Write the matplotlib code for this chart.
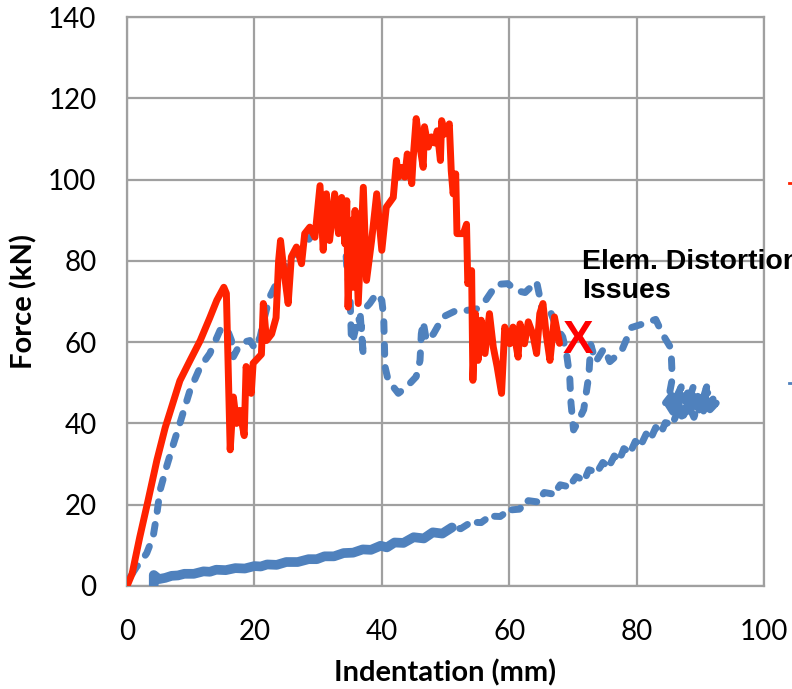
import matplotlib
matplotlib.use("Agg")
import matplotlib.pyplot as plt
from matplotlib.lines import Line2D

# ---------------- data ----------------
red_x = [0, 0.8, 2.0, 3.3, 4.7, 6.0, 7.0, 8.3, 9.9, 11.5, 13.0, 14.1, 15.2, 15.6,
         16.2, 16.7, 17.2, 17.7, 18.4, 18.7, 19.5, 19.8, 21.1, 21.4, 21.9, 22.7,
         23.4, 23.8, 24.1, 24.6, 25.3, 25.8, 26.6, 27.4, 27.9, 28.7, 29.5, 30.3,
         30.8, 31.3, 31.8, 32.6, 33.2, 33.7, 34.2, 34.5, 34.7, 35.2, 35.5, 35.8,
         36.3, 37.1, 37.6, 38.4, 39.2, 40.0, 40.7, 41.8, 42.3, 42.6, 43.1, 43.6,
         44.0, 44.7, 44.9, 45.4, 46.0, 46.5, 46.7, 47.3, 47.8, 48.3, 48.7, 49.2,
         49.4, 49.9, 50.6, 50.9, 51.2, 51.6, 51.8, 52.8, 53.3, 53.5, 54.1, 54.3,
         54.7, 55.1, 55.6, 56.2, 56.9, 57.5, 58.1, 58.8, 59.3, 60.1, 60.6, 61.4,
         61.7, 62.4, 63.0, 63.7, 64.3, 64.8, 65.3, 65.8, 66.4, 67.1, 67.9]
red_y = [0, 3, 12, 21, 31, 39, 44, 50.5, 55.5, 60.4, 66, 70.3, 73.5, 72,
         33.5, 46.5, 40, 43.2, 37, 54, 47.4, 54.8, 57, 69.5, 60.4, 62,
         66, 80, 85, 78, 69.5, 81, 83.4, 79.3, 86.7, 88.3, 85.8, 98.5,
         82.6, 96.5, 85, 96.5, 86.7, 95.6, 84.2, 94.8, 68.6, 90, 73.5, 92.4,
         69.5, 98.1, 75.2, 85, 96.5, 82.6, 93.2, 95.6, 104.7, 100.6, 103, 100.6,
         106.3, 99, 104.7, 115, 108, 103, 113, 108, 110.5, 109, 112, 104.7,
         114.5, 111.2, 113.7, 102.2, 96.5, 101.4, 86.7, 86.7, 89, 74.4, 77.6, 50.6,
         67, 55.5, 65.4, 57.2, 67, 58.8, 54, 47.4, 63.7, 59.6, 63.7, 56.3,
         64.5, 59.6, 65, 62, 57.2, 67, 69.5, 62, 55.5, 66.2, 59.7]

blue_load_x = [0, 0.2, 1.0, 0.6, 1.5, 2.2, 3.1, 4.1, 4.7, 5.2, 6.2, 7.3, 8.3, 9.9,
               11.5, 13.0, 14.6, 15.6, 16.4, 16.7, 17.5, 18.3, 19.3, 20.1, 20.9,
               21.6, 22.4, 23.7, 25.8, 27.7, 29.2, 30.5, 31.8, 32.6, 33.7, 34.2,
               34.5, 35.0, 35.2, 35.4, 36.3, 36.8, 37.1, 36.6, 38.1, 39.2, 40.0,
               40.3, 40.5, 41.0, 42.6, 43.9, 45.4, 46.0, 46.2, 46.5, 47.0, 48.1,
               49.6, 51.7, 53.3, 54.9, 56.4, 58.0, 59.8, 61.1, 62.5, 64.3, 64.8,
               65.3, 66.4, 67.4, 68.4, 69.0, 69.5, 69.7, 70.1, 70.5, 71.7, 72.5,
               72.8, 73.6, 74.9, 75.8, 77.6, 79.2, 80.8, 83.0, 84.1, 85.4, 85.6,
               85.1, 84.5, 86.0, 85.5, 87.0, 86.5, 88.0, 87.5, 89.0, 88.5, 90.0,
               89.5, 91.0, 90.0, 91.5, 90.5, 92.0, 91.0, 92.5, 91.5, 90.0, 89.0,
               88.0, 87.0, 86.5, 86.0, 85.0, 87.0, 88.5, 90.5, 89.5, 91.5, 88.0]
blue_load_y = [0, 1.5, 3.5, 2.5, 4.7, 6.0, 8.1, 12.1, 17.9, 23.6, 29.3, 35, 40, 48.2,
               53.9, 57.2, 62.9, 63.7, 60.4, 56.4, 58.8, 60, 60.4, 58.4, 61.3,
               66.2, 71.1, 75.2, 81, 83.4, 86.7, 90, 89.2, 88, 90.8, 86.7,
               78.5, 71.9, 62, 60, 66.2, 63.7, 56.4, 67, 69.5, 72, 70.3,
               66.2, 54, 50.6, 47.4, 49, 51.5, 55.5, 62, 65, 60.4, 62,
               66.2, 67.8, 67.8, 68.2, 70.5, 74.2, 74.4, 72.7, 72.2, 74.9, 71.1,
               66.2, 67.8, 63.7, 61.3, 57.2, 51.5, 45, 38.4, 39.5, 43.4, 51.8,
               59.4, 55.2, 58.5, 55.2, 57.7, 63.6, 64.4, 65.6, 61.9, 58.5, 51,
               46.8, 45, 48, 44, 49, 43, 47.5, 42.5, 49.5, 43, 48,
               42, 49, 44, 47, 43, 46, 42.5, 45, 44, 46, 41.5,
               45, 41.5, 45.5, 42, 44.5, 47, 43.5, 46.5, 44.5, 48, 43]

blue_unload_x = [88.0, 87.2, 86.5, 85.6, 84.5, 83.9, 83.0, 82.2, 81.5, 80.6, 79.8,
                 79.0, 78.0, 77.3, 76.5, 75.6, 74.7, 73.8, 72.5, 71.8, 70.5, 69.4,
                 68.0, 67.0, 65.5, 64.4, 63.0, 61.6, 60.0, 58.6, 57.0, 55.6, 54.0,
                 52.4, 51.0, 49.5, 48.0, 46.6, 45.0, 43.4, 42.0, 40.8, 39.8, 38.3,
                 37.0, 35.5, 34.0, 32.5, 31.0, 29.8, 28.5, 26.8, 25.0, 23.5, 22.0,
                 21.0, 20.0, 18.5, 17.0, 15.5, 14.0, 13.0, 12.0, 10.5, 9.0, 8.0,
                 7.0, 6.0, 5.0, 4.2, 4.2]
blue_unload_y = [44.0, 41.4, 43.0, 39.8, 40.2, 37.8, 39.0, 36.2, 37.4, 34.4, 35.6,
                 32.8, 33.8, 31.0, 32.0, 29.2, 30.4, 28.0, 28.6, 26.0, 26.9, 24.4,
                 24.9, 22.6, 23.0, 20.7, 21.0, 18.9, 18.7, 17.1, 17.2, 15.6, 15.7,
                 14.1, 14.4, 12.9, 13.2, 11.7, 12.0, 10.6, 10.7, 9.5, 9.9, 8.9,
                 9.0, 8.2, 8.1, 7.3, 7.3, 6.6, 6.6, 5.9, 5.9, 5.2, 5.3,
                 4.8, 4.9, 4.3, 4.4, 3.9, 4.0, 3.5, 3.6, 3.0, 3.0, 2.6,
                 2.5, 2.0, 1.7, 2.7, 0.3]

x_ticks = [0, 20, 40, 60, 80, 100]
y_ticks = [0, 20, 40, 60, 80, 100, 120, 140]

RED = "#FF2200"
BLUE = "#4F81BD"
GRID = "#A0A0A0"
LW = 5.0

fig = plt.figure(figsize=(7.92, 6.89), dpi=100)
ax = fig.add_axes([127 / 792, 1 - 586 / 689, (764 - 127) / 792, (586 - 17) / 689])

ax.set_xlim(0, 100)
ax.set_ylim(0, 140)
ax.set_xticks(x_ticks)
ax.set_yticks(y_ticks)
ax.grid(True, color=GRID, linewidth=1.6)
ax.set_axisbelow(True)
for s in ax.spines.values():
    s.set_color(GRID)
    s.set_linewidth(1.6)
ax.tick_params(length=0)

tick_font = dict(family="Lato", size=20)
ax.set_xticklabels([str(v) for v in x_ticks], **tick_font)
ax.set_yticklabels([str(v) for v in y_ticks], **tick_font)
ax.tick_params(axis="x", pad=24)
ax.tick_params(axis="y", pad=22)

ax.set_xlabel("Indentation (mm)", family="Lato", weight="bold", size=21, labelpad=10)
ax.set_ylabel("Force (kN)", family="Lato", weight="bold", size=21, labelpad=8)

# blue unloading band (dense noisy data -> solid-looking near the start)
n_solid = sum(1 for v in blue_unload_x if v < 50)
ax.plot(blue_unload_x[-n_solid - 1:], blue_unload_y[-n_solid - 1:], color=BLUE,
        lw=7.0, solid_capstyle="round", solid_joinstyle="round", zorder=3)
ax.plot(blue_unload_x, blue_unload_y, color=BLUE, lw=LW,
        linestyle=(0, (1.3, 1.5)), dash_capstyle="round", zorder=3)
# blue loading path (dashed)
ax.plot(blue_load_x, blue_load_y, color=BLUE, lw=LW,
        linestyle=(0, (1.4, 1.9)), dash_capstyle="round", zorder=3)
# red curve (solid)
ax.plot(red_x, red_y, color=RED, lw=LW, solid_joinstyle="round",
        solid_capstyle="round", zorder=4)

ax.text(71.5, 82.8, "Elem. Distortion\nIssues", family="Liberation Sans",
        weight="bold", size=20.5, ha="left", va="top", linespacing=1.15,
        color="black", zorder=5)
ax.text(70.8, 60.2, "X", family="Liberation Sans", weight="bold", size=33,
        color="#FF0000", ha="center", va="center", zorder=5)

# cut-off legend fragments at the right edge
fig.add_artist(Line2D([789 / 792, 1.0], [1 - 183 / 689] * 2, color=RED, lw=2,
                      transform=fig.transFigure))
fig.add_artist(Line2D([789 / 792, 1.0], [1 - 383 / 689] * 2, color=BLUE, lw=2,
                      transform=fig.transFigure))

fig.savefig("out.png", dpi=100)
